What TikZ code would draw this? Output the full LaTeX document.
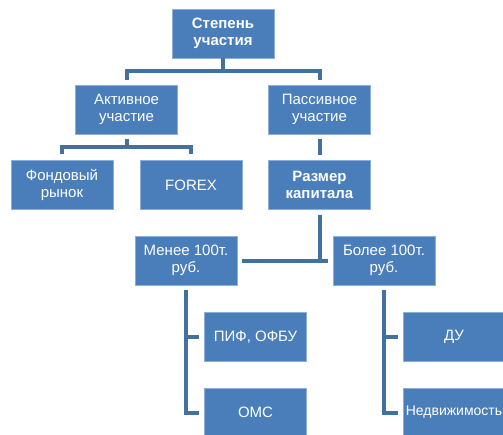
\documentclass[tikz,border=0pt]{standalone}
\usepackage{fontspec}
\setmainfont{Liberation Sans}
\usepackage{tikz}
\definecolor{BoxBlue}{HTML}{4A7EBB}
\definecolor{BoxEdge}{HTML}{8DB0DA}
\definecolor{LinkBlue}{HTML}{41719C}

\tikzset{
  box/.style={draw=BoxEdge, line width=0.6pt, fill=BoxBlue, text=white,
              minimum width=102pt, minimum height=49pt, inner sep=2pt,
              align=center, font=\fontsize{15}{17}\selectfont},
  boldbox/.style={box, font=\fontsize{15}{17}\selectfont\bfseries},
  link/.style={draw=LinkBlue, line width=4pt}
}

\begin{document}
\begin{tikzpicture}[x=1pt, y=-1pt]
            \useasboundingbox (0,0) rectangle (503,434);
            \clip (0,0) rectangle (503,434);

            % boxes
            \node[boldbox] (top) at (223,33.5) {Степень\\участия};
            \node[box] (act) at (126.5,109.5) {Активное\\участие};
            \node[box] (pas) at (319.5,109.5) {Пассивное\\участие};
            \node[box] (fond) at (62,185) {Фондовый\\рынок};
            \node[box] (forex) at (191,185) {FOREX};
            \node[boldbox] (razm) at (319.5,185) {Размер\\капитала};
            \node[box] (menee) at (186,260.5) {Менее 100т.\\руб.};
            \node[box] (bolee) at (384,260.5) {Более 100т.\\руб.};
            \node[box] (pif) at (255.5,337) {ПИФ, ОФБУ};
            \node[box] (oms) at (255.5,412.5) {ОМС};
            \node[box] (du) at (454,337) {ДУ};
            \node[box, font=\fontsize{14}{17}\selectfont] (ned) at (454,412.5) {Недвижимость};

            % connectors
            \draw[link] (top.south) -- ([yshift=-13pt]top.south);
            \draw[link] ([yshift=5pt]act.north) |- ([yshift=-13pt]top.south) -| ([yshift=5pt]pas.north);
            \draw[link] ([yshift=-5pt]act.south) -- ([yshift=-13pt]act.south);
            \draw[link] ([yshift=6pt]fond.north) |- ([yshift=-13pt]act.south) -| ([yshift=6pt]forex.north);
            \draw[link] ([yshift=-5pt]pas.south) -- ([yshift=5pt]razm.north);
            \draw[link] ([yshift=-5pt]razm.south) -- (razm.south |- menee.east);
            \draw[link] ([xshift=5pt]menee.east) -- ([xshift=-5pt]bolee.west);
            \draw[link] ([yshift=-5pt]menee.south) |- ([xshift=-5pt]oms.west);
            \draw[link] (menee.south |- pif.west) -- ([xshift=-5pt]pif.west);
            \draw[link] ([yshift=-5pt]bolee.south) |- ([xshift=-5pt]ned.west);
            \draw[link] (bolee.south |- du.west) -- ([xshift=-5pt]du.west);
        \end{tikzpicture}
\end{document}
